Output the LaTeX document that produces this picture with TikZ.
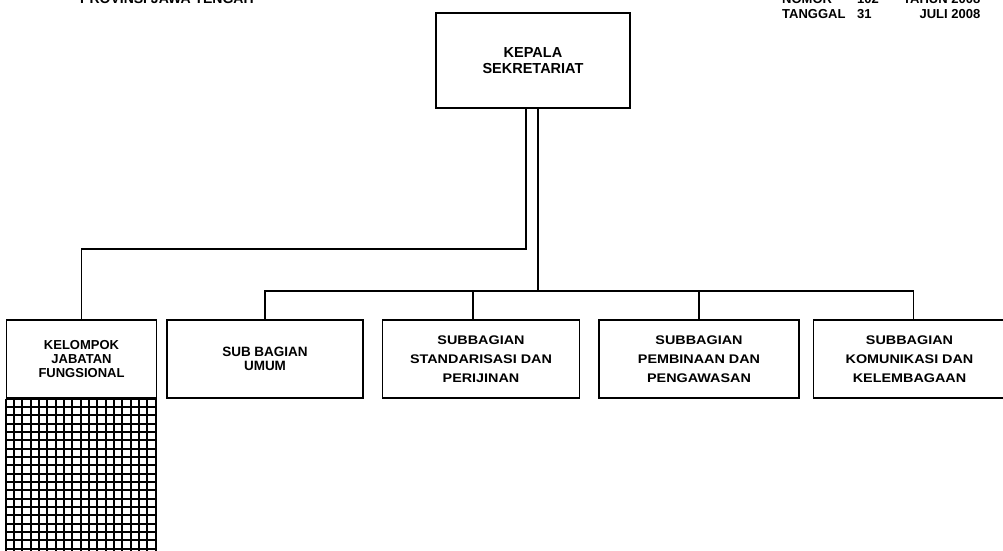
\documentclass[tikz,border=0pt]{standalone}
\usepackage{fontspec}
\setmainfont{Liberation Sans}
\newfontfamily\widefont[FakeStretch=1.15]{Liberation Sans}
\usepackage{tikz}
\usetikzlibrary{positioning}

\begin{document}
\begin{tikzpicture}[
  x=1pt, y=-1pt,
  node distance=18pt,
  unit/.style={rectangle, draw=black, line width=1.5pt, align=center, inner sep=0pt, minimum width=#1, minimum height=78pt, font=\bfseries\fontsize{12.5}{14.3}\selectfont},
  wideskip/.style={font=\widefont\bfseries\fontsize{12.5}{18.7}\selectfont},
  headbox/.style={rectangle, draw=black, line width=1.5pt, align=center, inner sep=0pt, minimum width=194pt, minimum height=95pt, font=\bfseries\fontsize{14.5}{15.6}\selectfont},
  link/.style={line width=1.5pt},
  gridline/.style={line width=2pt}
]
\useasboundingbox (0,0) rectangle (1003,550);

% header lines, cut by the page edge
\node[anchor=base west, inner sep=0pt, font=\bfseries\fontsize{14}{15}\selectfont] (provinsi) at (80,3) {PROVINSI JAWA TENGAH};
\node[anchor=base west, inner sep=0pt, font=\bfseries\fontsize{13}{15}\selectfont] (nomor) at (782,18)
  {\begin{tabular}[b]{@{}p{75pt}@{}p{46pt}@{}r@{}}NOMOR & 102 & TAHUN 2008\\TANGGAL & 31 & JULI 2008\end{tabular}};

\node[headbox] (kepala) at (533,60.5) {KEPALA\\SEKRETARIAT};

\node[unit=196pt, font=\bfseries\fontsize{13.5}{13.7}\selectfont] (umum) at (265,359) {SUB BAGIAN\\UMUM};
\node[unit=150pt, left=9pt of umum, font=\bfseries\fontsize{13}{14.3}\selectfont] (jabfung) {KELOMPOK\\JABATAN\\FUNGSIONAL};
\node[unit=197pt, wideskip, right=of umum] (standar) {SUBBAGIAN\\STANDARISASI DAN\\PERIJINAN};
\node[unit=200pt, wideskip, right=of standar] (pembinaan) {SUBBAGIAN\\PEMBINAAN DAN\\PENGAWASAN};
\node[unit=192pt, wideskip, right=13pt of pembinaan] (komunikasi) {SUBBAGIAN\\KOMUNIKASI DAN\\KELEMBAGAAN};

% hatched column under the functional group
\begin{scope}[shift={(jabfung.south west)}]
  \draw[gridline] (0,0) grid[step=8.3333pt] (150,160);
  \draw[link] (0,0) -- (0,160);
  \draw[link] (150,0) -- (150,160);
\end{scope}

\coordinate (jfbend) at (526,249);
\coordinate (bus) at (538,291);

\draw[link] (kepala.south -| jfbend) -- (jfbend) -| (jabfung.north);
\draw[link] (kepala.south -| bus) -- (bus);
\draw[link] (umum.north) |- (bus) -| ([xshift=4pt]komunikasi.north);
\draw[link] ([xshift=-8pt]standar.north) -- ([xshift=-8pt]standar.north |- bus);
\draw[link] (pembinaan.north) -- (pembinaan.north |- bus);
\end{tikzpicture}
\end{document}
